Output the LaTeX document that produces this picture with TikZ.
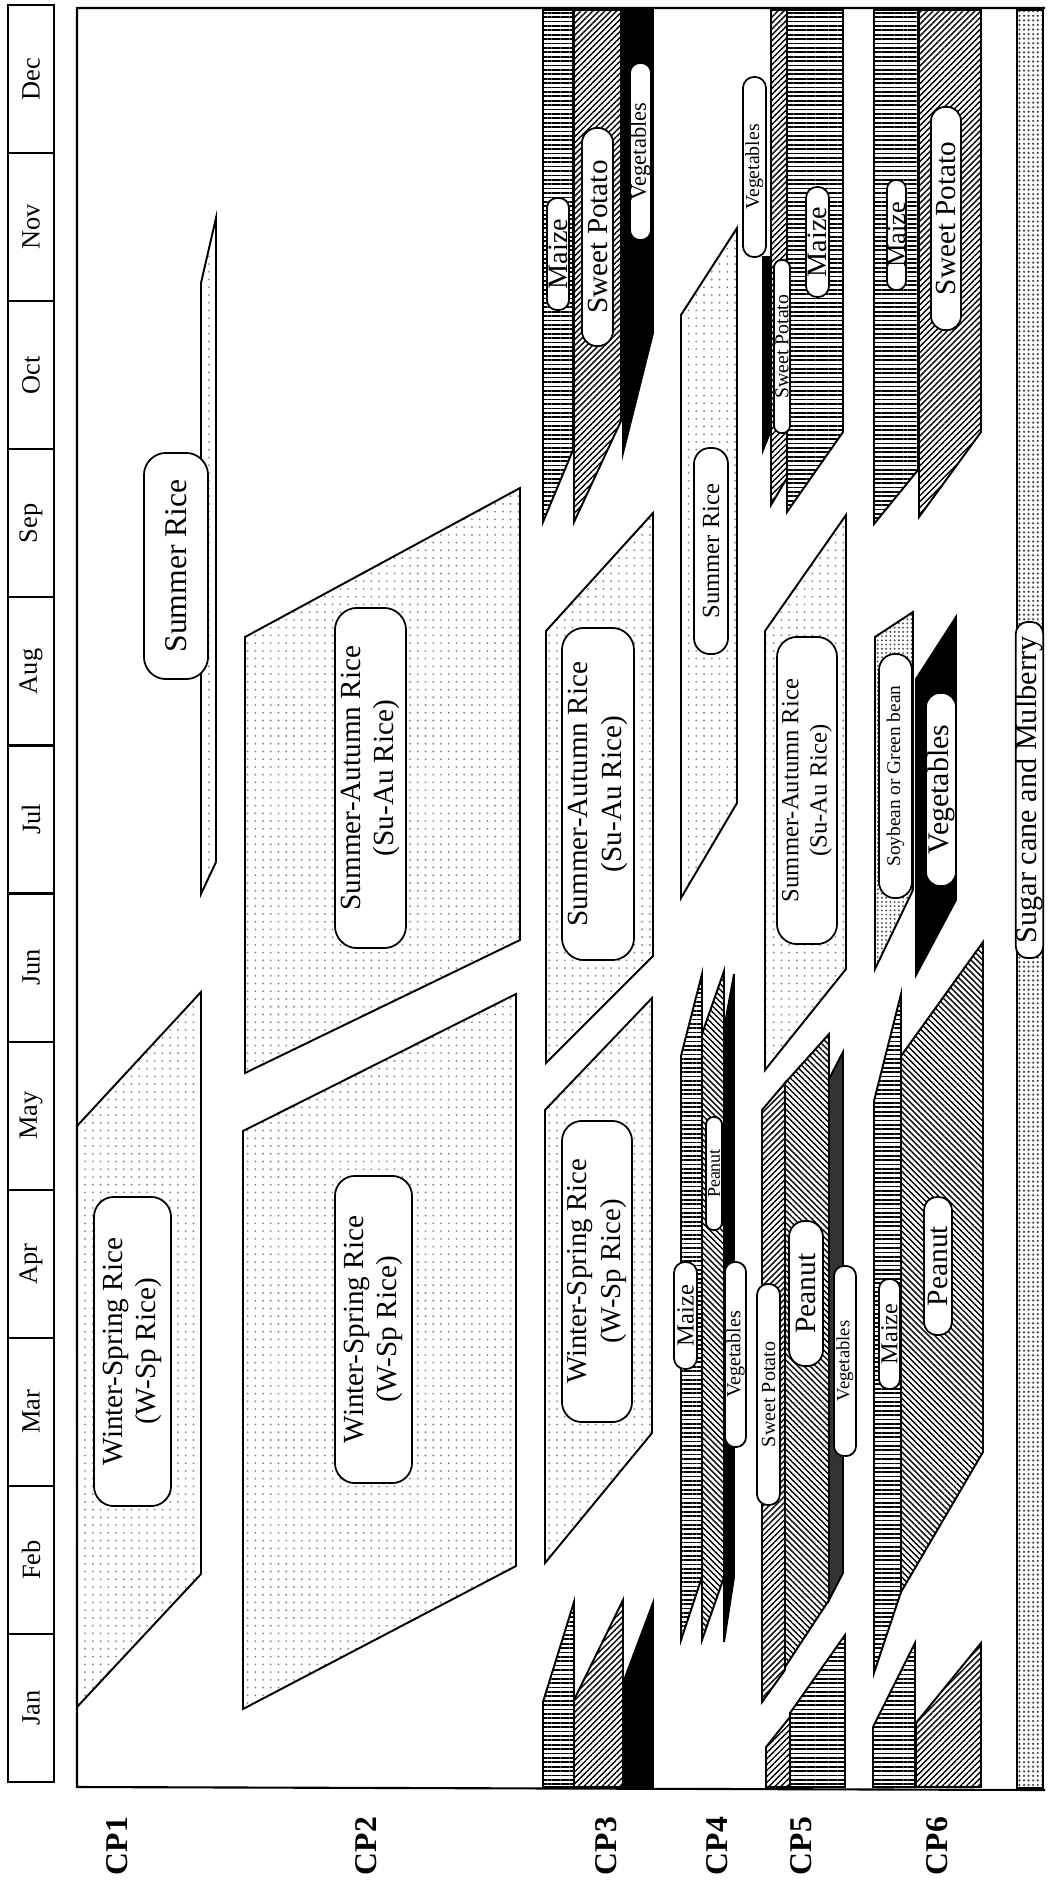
\documentclass[tikz,border=0pt]{standalone}
\usepackage{fontspec}
\setmainfont{Liberation Serif}
\setsansfont{Liberation Sans}
\usetikzlibrary{patterns.meta}

\newcommand{\lblfont}[1]{\pgfmathsetmacro{\lblskip}{1.15*#1}\fontsize{#1}{\lblskip}\selectfont}

\begin{document}
\begin{tikzpicture}[
  x=0.01cm, y=-0.01cm,
  frame/.style={black, line width=0.6pt},
  crop/.style={draw=black, line width=0.55pt, line join=miter},
  rice/.style={crop, pattern={Dots[distance=2.2pt, radius=0.3pt]}, pattern color=black!45},
  maize/.style={crop, pattern={Lines[angle=0, distance=1.25pt, line width=0.5pt]}},
  swpot/.style={crop, pattern={Lines[angle=45, distance=1.2pt, line width=0.4pt]}},
  pnut/.style={crop, pattern={Lines[angle=-45, distance=1.2pt, line width=0.4pt]}},
  veg/.style={crop, fill=black},
  soy/.style={crop, pattern={Dots[distance=1.2pt, radius=0.3pt]}, pattern color=black!70},
  cane/.style={crop, pattern={Dots[distance=1.3pt, radius=0.35pt]}, pattern color=black!75},
  croptag/.style={draw, fill=white, line width=0.5pt, rotate=90, align=center,
    inner sep=0pt, rounded corners=#1},
  month/.style={rotate=90, font=\lblfont{7.5}},
  cplbl/.style={rotate=90, font=\bfseries\lblfont{9}},
]
\useasboundingbox (0,0) rectangle (1049,1881);

% ══════════════════════════════════════════════════════
% Month strip
% ══════════════════════════════════════════════════════
\draw[frame] (8,5) rectangle (54,1782);
\foreach \m [count=\i from 0] in {Jan,Feb,Mar,Apr,May,Jun,Jul,Aug,Sep,Oct,Nov,Dec}{
  \pgfmathsetmacro{\ytop}{1782-148.08*(\i+1)}
  \pgfmathsetmacro{\ymid}{1782-148.08*(\i+0.5)}
  \draw[frame] (8,\ytop) -- (54,\ytop);
  \node[month] (mon\m) at (31,\ymid) {\m};
}

% ══════════════════════════════════════════════════════
% Frame
% ══════════════════════════════════════════════════════
\draw[frame] (1045,8) -- (77,8) -- (77,1787) -- (1045,1790);

% ══════════════════════════════════════════════════════
% Rice seasons
% ══════════════════════════════════════════════════════
% CP1
\draw[rice] (77,1707) -- (201,1574) -- (201,992) -- (77,1126) -- cycle;
\draw[rice] (201,894) -- (216,862) -- (216,218) -- (201,283) -- cycle;
% CP2
\draw[rice] (243,1709) -- (516,1566) -- (516,994) -- (243,1131) -- cycle;
\draw[rice] (245,1073) -- (520,940) -- (520,488) -- (245,637) -- cycle;
% CP3
\draw[rice] (545,1563) -- (652,1433) -- (652,998) -- (545,1110) -- cycle;
\draw[rice] (546,1063) -- (653,956) -- (653,513) -- (546,631) -- cycle;
% CP4 and CP5
\draw[rice] (681,898) -- (737,803) -- (737,228) -- (681,315) -- cycle;
\draw[rice] (765,1070) -- (846,969) -- (846,515) -- (765,631) -- cycle;

% ══════════════════════════════════════════════════════
% Upland crops
% ══════════════════════════════════════════════════════
% Maize
\draw[maize] (543,522) -- (573,450) -- (573,10) -- (543,10) -- cycle;
\draw[maize] (543,1787) -- (543,1702) -- (574,1602) -- (574,1787) -- cycle;
\draw[maize] (681,1640) -- (702,1577) -- (702,974) -- (681,1056) -- cycle;
\draw[maize] (787,512) -- (843,432) -- (843,10) -- (787,10) -- cycle;
\draw[maize] (790,1787) -- (790,1713) -- (845,1635) -- (845,1787) -- cycle;
\draw[maize] (874,524) -- (918,470) -- (918,10) -- (874,10) -- cycle;
\draw[maize] (874,1673) -- (901,1592) -- (901,994) -- (874,1101) -- cycle;
\draw[maize] (873,1787) -- (873,1727) -- (915,1643) -- (915,1787) -- cycle;

% Sweet potato
\draw[swpot] (574,522) -- (621,421) -- (621,10) -- (574,10) -- cycle;
\draw[swpot] (574,1787) -- (574,1700) -- (623,1600) -- (623,1787) -- cycle;
\draw[swpot] (771,505) -- (787,478) -- (787,10) -- (771,10) -- cycle;
\draw[swpot] (762,1702) -- (785,1670) -- (785,1083) -- (762,1110) -- cycle;
\draw[swpot] (766,1787) -- (766,1747) -- (790,1717) -- (790,1787) -- cycle;
\draw[swpot] (919,517) -- (981,432) -- (981,10) -- (919,10) -- cycle;
\draw[swpot] (916,1787) -- (916,1723) -- (981,1643) -- (981,1787) -- cycle;

% Peanut
\draw[pnut] (702,1640) -- (724,1577) -- (724,971) -- (702,1034) -- cycle;
\draw[pnut] (785,1667) -- (829,1600) -- (829,1034) -- (785,1083) -- cycle;
\draw[pnut] (901,1592) -- (983,1452) -- (983,942) -- (901,1056) -- cycle;

% Vegetables
\draw[veg] (623,453) -- (653,333) -- (653,10) -- (623,10) -- cycle;
\draw[veg] (623,1787) -- (623,1683) -- (653,1603) -- (653,1787) -- cycle;
\draw[veg] (724,1642) -- (734,1577) -- (734,974) -- (724,1029) -- cycle;
\draw[veg] (763,450) -- (771,430) -- (771,257) -- (763,257) -- cycle;
\draw[veg, fill=black!80] (829,1600) -- (843,1573) -- (843,1052) -- (829,1079) -- cycle;
\draw[veg] (916,975) -- (956,900) -- (956,617) -- (916,679) -- cycle;

% Soybean, sugar cane
\draw[soy] (875,969) -- (913,890) -- (913,612) -- (875,637) -- cycle;
\draw[cane] (1017,10) rectangle (1043,1788);

% ══════════════════════════════════════════════════════
% Crop labels
% ══════════════════════════════════════════════════════
\node[croptag=0.2cm, minimum width=3.09cm, minimum height=0.77cm, font=\lblfont{8.3}]
  (wspA) at (132.5,1351.5) {Winter-Spring Rice\\(W-Sp Rice)};
\node[croptag=0.22cm, minimum width=2.26cm, minimum height=0.64cm, font=\lblfont{9}]
  (sumA) at (176,566) {Summer Rice};
\node[croptag=0.2cm, minimum width=3.07cm, minimum height=0.77cm, font=\lblfont{8.3}]
  (wspB) at (373.5,1329.5) {Winter-Spring Rice\\(W-Sp Rice)};
\node[croptag=0.22cm, minimum width=3.40cm, minimum height=0.71cm, font=\lblfont{8.3}]
  (suauB) at (370.5,778) {Summer-Autumn Rice\\(Su-Au Rice)};
\node[croptag=0.22cm, minimum width=3.32cm, minimum height=0.72cm, font=\lblfont{8.3}]
  (suauC) at (598,794) {Summer-Autumn Rice\\(Su-Au Rice)};
\node[croptag=0.2cm, minimum width=3.01cm, minimum height=0.70cm, font=\lblfont{8.2}]
  (wspC) at (597,1271.5) {Winter-Spring Rice\\(W-Sp Rice)};
\node[croptag=0.1cm, minimum width=1.12cm, minimum height=0.22cm, font=\lblfont{8}]
  (maizeCt) at (558,254) {Maize};
\node[croptag=0.15cm, minimum width=2.18cm, minimum height=0.31cm, font=\lblfont{8.3}]
  (swpCt) at (597.5,237) {Sweet Potato};
\node[croptag=0.1cm, minimum width=1.77cm, minimum height=0.21cm, font=\lblfont{6.4}]
  (vegCt) at (640.5,151.5) {Vegetables};
\node[croptag=0.16cm, minimum width=2.06cm, minimum height=0.34cm, font=\lblfont{7}]
  (sumD) at (711,551) {Summer Rice};
\node[croptag=0.11cm, minimum width=1.07cm, minimum height=0.23cm, font=\lblfont{7}]
  (maizeD) at (685.5,1315.5) {Maize};
\node[croptag=0.075cm, minimum width=1.13cm, minimum height=0.16cm, font=\lblfont{5.1}]
  (pnutD) at (714,1173.5) {Peanut};
\node[croptag=0.1cm, minimum width=1.85cm, minimum height=0.21cm, font=\lblfont{5.7}]
  (vegD) at (735.5,1354.5) {Vegetables};
\node[croptag=0.11cm, minimum width=1.80cm, minimum height=0.23cm, font=\lblfont{5.6}]
  (vegEt) at (754.5,167) {Vegetables};
\node[croptag=0.075cm, minimum width=1.73cm, minimum height=0.16cm, font=\lblfont{5.6}]
  (swpEt) at (782,346.5) {Sweet Potato};
\node[croptag=0.11cm, minimum width=1.10cm, minimum height=0.23cm, font=\lblfont{8}]
  (maizeEt) at (817.5,242) {Maize};
\node[croptag=0.2cm, minimum width=3.07cm, minimum height=0.60cm, font=\lblfont{7}]
  (suauE) at (807,790.5) {Summer-Autumn Rice\\(Su-Au Rice)};
\node[croptag=0.11cm, minimum width=2.21cm, minimum height=0.23cm, font=\lblfont{5.7}]
  (swpE) at (768.5,1394.5) {Sweet Potato};
\node[croptag=0.16cm, minimum width=1.45cm, minimum height=0.34cm, font=\lblfont{8.4}]
  (pnutE) at (806,1293.5) {Peanut};
\node[croptag=0.1cm, minimum width=1.90cm, minimum height=0.22cm, font=\lblfont{5.3}]
  (vegE) at (845,1361) {Vegetables};
\node[croptag=0.09cm, minimum width=1.10cm, minimum height=0.19cm, font=\lblfont{7.5}]
  (maizeFt) at (896.5,235) {Maize};
\node[croptag=0.14cm, minimum width=2.23cm, minimum height=0.30cm, font=\lblfont{8.3}]
  (swpFt) at (946,218.5) {Sweet Potato};
\node[croptag=0.16cm, minimum width=2.44cm, minimum height=0.33cm, font=\lblfont{5.5}]
  (soyF) at (895.5,776) {Soybean or Green bean};
\node[croptag=0.14cm, minimum width=1.93cm, minimum height=0.30cm, font=\lblfont{8.5}]
  (vegF) at (941,789.5) {Vegetables};
\node[croptag=0.1cm, minimum width=1.10cm, minimum height=0.21cm, font=\lblfont{6.9}]
  (maizeF) at (889.5,1334) {Maize};
\node[croptag=0.13cm, minimum width=1.38cm, minimum height=0.28cm, font=\lblfont{8.4}]
  (pnutF) at (938,1266) {Peanut};
\node[croptag=0.12cm, minimum width=3.36cm, minimum height=0.25cm, font=\lblfont{8.6}]
  (caneG) at (1029.5,790) {Sugar cane and Mulberry};

% ══════════════════════════════════════════════════════
% Cropping pattern labels
% ══════════════════════════════════════════════════════
\foreach \cp/\cx in {1/117, 2/366, 3/606, 4/717, 5/801, 6/937}
  \node[cplbl] (cp\cp) at (\cx,1846) {CP\cp};

\end{tikzpicture}
\end{document}
